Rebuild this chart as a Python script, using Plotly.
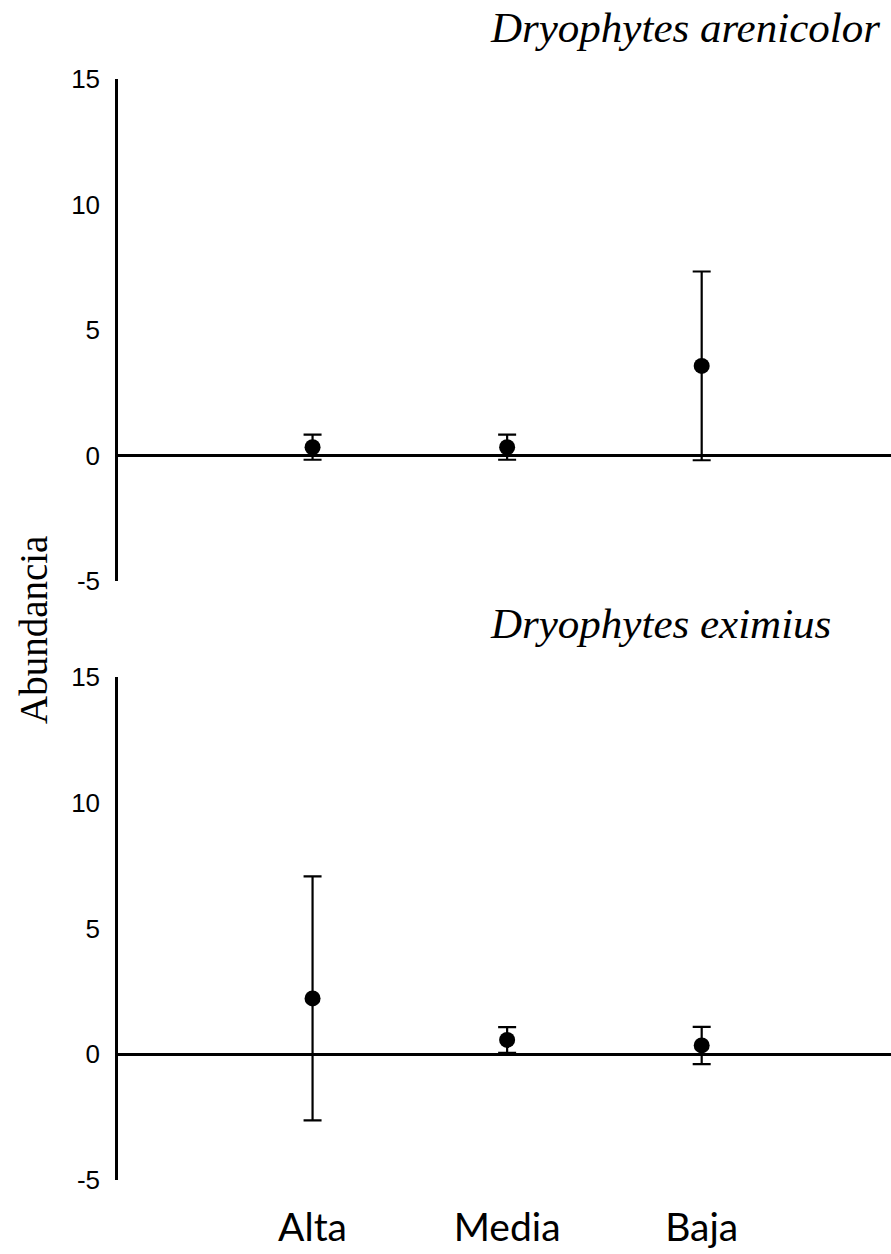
import plotly.graph_objects as go

categories = ["Alta", "Media", "Baja"]
arenicolor_mean = [0.33, 0.33, 3.57]
arenicolor_err = [0.5, 0.5, 3.76]
eximius_mean = [2.22, 0.57, 0.35]
eximius_err = [4.85, 0.51, 0.74]
y_ticks = [-5, 0, 5, 10, 15]
y_ticktext = ["-5", "0", "5", "10", "15"]

W, H = 891, 1254
fig = go.Figure()

def add_series(means, errs, xa, ya):
    fig.add_trace(go.Scatter(
        x=categories, y=means, mode="markers",
        marker=dict(color="black", size=16, symbol="circle"),
        error_y=dict(type="data", array=errs, visible=True, color="black",
                     thickness=2.2, width=9),
        xaxis=xa, yaxis=ya, showlegend=False, cliponaxis=False))

add_series(arenicolor_mean, arenicolor_err, "x", "y")
add_series(eximius_mean, eximius_err, "x2", "y2")

yax = dict(range=[-5, 15], tickvals=y_ticks, ticktext=y_ticktext,
           showgrid=False, showline=True, automargin=False,
           linecolor="black", linewidth=2.5, zeroline=True, zerolinecolor="black",
           zerolinewidth=2.5, ticks="", ticklabelstandoff=10,
           tickfont=dict(family="Liberation Sans", size=26, color="black"))
xax = dict(type="category", categoryorder="array", categoryarray=categories,
           range=[-1, 2.973], showgrid=False, showline=False, zeroline=False,
           ticks="", automargin=False)

fig.update_layout(
    width=W, height=H,
    margin=dict(l=118, r=0, t=0, b=0),
    paper_bgcolor="white", plot_bgcolor="white",
    xaxis=dict(**xax, domain=[0, 1], anchor="y", showticklabels=False),
    yaxis=dict(**yax, domain=[1 - 581 / H, 1 - 79 / H], anchor="x"),
    xaxis2=dict(**xax, domain=[0, 1], anchor="y2", showticklabels=True,
                ticklabelstandoff=21,
                tickfont=dict(family="Lato", size=39, color="black")),
    yaxis2=dict(**yax, domain=[1 - 1180 / H, 1 - 677 / H], anchor="x2"),
)

def px_x(p):
    return (p - 118) / (W - 118)

def px_y(p):
    return 1 - p / H

fig.add_annotation(text="Dryophytes arenicolor", xref="paper", yref="paper",
                   x=px_x(488), y=px_y(28), showarrow=False,
                   xanchor="left", yanchor="middle",
                   font=dict(family="Liberation Serif", size=43, color="black",
                             style="italic"))
fig.add_annotation(text="Dryophytes eximius", xref="paper", yref="paper",
                   x=px_x(488), y=px_y(624), showarrow=False,
                   xanchor="left", yanchor="middle",
                   font=dict(family="Liberation Serif", size=43, color="black",
                             style="italic"))
fig.add_annotation(text="Abundancia", xref="paper", yref="paper",
                   x=px_x(33), y=px_y(630), showarrow=False, textangle=-90,
                   xanchor="center", yanchor="middle",
                   font=dict(family="Liberation Serif", size=39, color="black"))

fig.write_html("out.html")
